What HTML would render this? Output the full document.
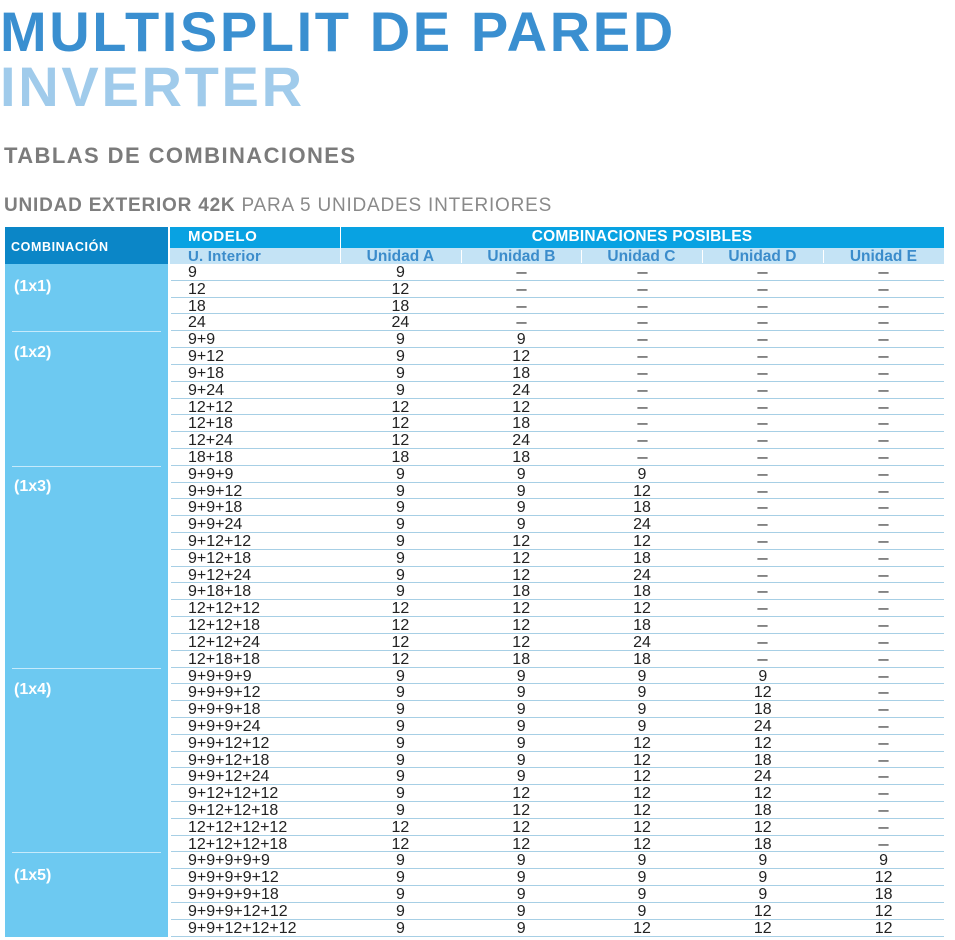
<!DOCTYPE html>
<html><head><meta charset="utf-8">
<style>
*{margin:0;padding:0;box-sizing:border-box}
html,body{width:955px;height:940px;background:#fff;overflow:hidden}
body{position:relative;font-family:"Liberation Sans",sans-serif}
.abs{position:absolute;white-space:nowrap}
.t1{left:0;top:3.6px;font-size:56px;line-height:56px;font-weight:bold;color:#3a8fd0;letter-spacing:2.6px}
.t2{left:0;top:59px;font-size:56px;line-height:56px;font-weight:bold;color:#a0cbeb;letter-spacing:2.7px}
.t3{left:4px;top:145.4px;font-size:22px;line-height:22px;font-weight:bold;color:#7b7b7b;letter-spacing:1.42px}
.t4{left:4px;top:195.8px;font-size:19px;line-height:19px;color:#8a8a8a;letter-spacing:0.79px}
.t4 b{color:#7e7e7e}
.hdark{left:5px;top:227px;width:163px;height:37px;background:#0b86c7}
.hbar{left:170px;top:227px;width:774px;height:21px;background:#08a2e2}
.hsub{left:170px;top:248px;width:774px;height:16px;background:#c4e3f5}
.vline{background:#fff;width:1px}
.hw{color:#fff;font-weight:bold}
.hs{color:#3b8ccb;font-weight:bold;font-size:15.5px;line-height:16px;top:248.5px;text-align:center;width:120.8px}
.leftcol{left:5px;top:264px;width:163px;height:673px;background:#6dc9f1}
.sep{left:12px;width:149px;height:1px;background:#c6eafb}
.lab{left:14px;font-size:16px;line-height:16px;font-weight:bold;color:#fff}
#rows{position:absolute;left:171px;top:264px;width:773px}
.r{display:flex;height:16.825px;border-bottom:1px solid #a7cfe5;font-size:16px;line-height:16.825px;color:#222}
.r span{display:block;width:120.8px;text-align:center;position:relative;top:1px}
.r span:first-child{width:169px;text-align:left;padding-left:17px}
.r i{font-style:normal;display:inline-block;transform:scaleX(1.15)}
</style></head><body>
<div class="abs t1">MULTISPLIT DE PARED</div>
<div class="abs t2">INVERTER</div>
<div class="abs t3">TABLAS DE COMBINACIONES</div>
<div class="abs t4"><b>UNIDAD EXTERIOR 42K</b> PARA 5 UNIDADES INTERIORES</div>

<div class="abs hdark"></div>
<div class="abs hbar"></div>
<div class="abs hsub"></div>
<div class="abs vline" style="left:340px;top:227px;height:36px"></div>
<div class="abs vline" style="left:461px;top:250px;height:13px"></div>
<div class="abs vline" style="left:581px;top:250px;height:13px"></div>
<div class="abs vline" style="left:702px;top:250px;height:13px"></div>
<div class="abs vline" style="left:823px;top:250px;height:13px"></div>

<div class="abs hw" style="left:11px;top:239.5px;font-size:12.5px;line-height:14px;letter-spacing:0.6px">COMBINACIÓN</div>
<div class="abs hw" style="left:188px;top:229px;font-size:15px;line-height:16px;letter-spacing:0.6px">MODELO</div>
<div class="abs hw" style="left:340px;width:604px;text-align:center;top:229px;font-size:15.5px;line-height:16px;letter-spacing:0.2px">COMBINACIONES POSIBLES</div>
<div class="abs hs" style="left:188px;width:auto;text-align:left;font-size:15px;letter-spacing:0.2px">U. Interior</div>
<div class="abs hs" style="left:340px">Unidad A</div>
<div class="abs hs" style="left:461px">Unidad B</div>
<div class="abs hs" style="left:581px">Unidad C</div>
<div class="abs hs" style="left:702px">Unidad D</div>
<div class="abs hs" style="left:823px">Unidad E</div>

<div class="abs leftcol"></div>
<div class="abs sep" style="top:331px"></div>
<div class="abs sep" style="top:465.5px"></div>
<div class="abs sep" style="top:667.5px"></div>
<div class="abs sep" style="top:851.5px"></div>
<div class="abs lab" style="top:278.5px">(1x1)</div>
<div class="abs lab" style="top:344.5px">(1x2)</div>
<div class="abs lab" style="top:478.5px">(1x3)</div>
<div class="abs lab" style="top:681.5px">(1x4)</div>
<div class="abs lab" style="top:867.5px">(1x5)</div>

<div id="rows">
<div class="r"><span>9</span><span>9</span><span><i>–</i></span><span><i>–</i></span><span><i>–</i></span><span><i>–</i></span></div>
<div class="r"><span>12</span><span>12</span><span><i>–</i></span><span><i>–</i></span><span><i>–</i></span><span><i>–</i></span></div>
<div class="r"><span>18</span><span>18</span><span><i>–</i></span><span><i>–</i></span><span><i>–</i></span><span><i>–</i></span></div>
<div class="r"><span>24</span><span>24</span><span><i>–</i></span><span><i>–</i></span><span><i>–</i></span><span><i>–</i></span></div>
<div class="r"><span>9+9</span><span>9</span><span>9</span><span><i>–</i></span><span><i>–</i></span><span><i>–</i></span></div>
<div class="r"><span>9+12</span><span>9</span><span>12</span><span><i>–</i></span><span><i>–</i></span><span><i>–</i></span></div>
<div class="r"><span>9+18</span><span>9</span><span>18</span><span><i>–</i></span><span><i>–</i></span><span><i>–</i></span></div>
<div class="r"><span>9+24</span><span>9</span><span>24</span><span><i>–</i></span><span><i>–</i></span><span><i>–</i></span></div>
<div class="r"><span>12+12</span><span>12</span><span>12</span><span><i>–</i></span><span><i>–</i></span><span><i>–</i></span></div>
<div class="r"><span>12+18</span><span>12</span><span>18</span><span><i>–</i></span><span><i>–</i></span><span><i>–</i></span></div>
<div class="r"><span>12+24</span><span>12</span><span>24</span><span><i>–</i></span><span><i>–</i></span><span><i>–</i></span></div>
<div class="r"><span>18+18</span><span>18</span><span>18</span><span><i>–</i></span><span><i>–</i></span><span><i>–</i></span></div>
<div class="r"><span>9+9+9</span><span>9</span><span>9</span><span>9</span><span><i>–</i></span><span><i>–</i></span></div>
<div class="r"><span>9+9+12</span><span>9</span><span>9</span><span>12</span><span><i>–</i></span><span><i>–</i></span></div>
<div class="r"><span>9+9+18</span><span>9</span><span>9</span><span>18</span><span><i>–</i></span><span><i>–</i></span></div>
<div class="r"><span>9+9+24</span><span>9</span><span>9</span><span>24</span><span><i>–</i></span><span><i>–</i></span></div>
<div class="r"><span>9+12+12</span><span>9</span><span>12</span><span>12</span><span><i>–</i></span><span><i>–</i></span></div>
<div class="r"><span>9+12+18</span><span>9</span><span>12</span><span>18</span><span><i>–</i></span><span><i>–</i></span></div>
<div class="r"><span>9+12+24</span><span>9</span><span>12</span><span>24</span><span><i>–</i></span><span><i>–</i></span></div>
<div class="r"><span>9+18+18</span><span>9</span><span>18</span><span>18</span><span><i>–</i></span><span><i>–</i></span></div>
<div class="r"><span>12+12+12</span><span>12</span><span>12</span><span>12</span><span><i>–</i></span><span><i>–</i></span></div>
<div class="r"><span>12+12+18</span><span>12</span><span>12</span><span>18</span><span><i>–</i></span><span><i>–</i></span></div>
<div class="r"><span>12+12+24</span><span>12</span><span>12</span><span>24</span><span><i>–</i></span><span><i>–</i></span></div>
<div class="r"><span>12+18+18</span><span>12</span><span>18</span><span>18</span><span><i>–</i></span><span><i>–</i></span></div>
<div class="r"><span>9+9+9+9</span><span>9</span><span>9</span><span>9</span><span>9</span><span><i>–</i></span></div>
<div class="r"><span>9+9+9+12</span><span>9</span><span>9</span><span>9</span><span>12</span><span><i>–</i></span></div>
<div class="r"><span>9+9+9+18</span><span>9</span><span>9</span><span>9</span><span>18</span><span><i>–</i></span></div>
<div class="r"><span>9+9+9+24</span><span>9</span><span>9</span><span>9</span><span>24</span><span><i>–</i></span></div>
<div class="r"><span>9+9+12+12</span><span>9</span><span>9</span><span>12</span><span>12</span><span><i>–</i></span></div>
<div class="r"><span>9+9+12+18</span><span>9</span><span>9</span><span>12</span><span>18</span><span><i>–</i></span></div>
<div class="r"><span>9+9+12+24</span><span>9</span><span>9</span><span>12</span><span>24</span><span><i>–</i></span></div>
<div class="r"><span>9+12+12+12</span><span>9</span><span>12</span><span>12</span><span>12</span><span><i>–</i></span></div>
<div class="r"><span>9+12+12+18</span><span>9</span><span>12</span><span>12</span><span>18</span><span><i>–</i></span></div>
<div class="r"><span>12+12+12+12</span><span>12</span><span>12</span><span>12</span><span>12</span><span><i>–</i></span></div>
<div class="r"><span>12+12+12+18</span><span>12</span><span>12</span><span>12</span><span>18</span><span><i>–</i></span></div>
<div class="r"><span>9+9+9+9+9</span><span>9</span><span>9</span><span>9</span><span>9</span><span>9</span></div>
<div class="r"><span>9+9+9+9+12</span><span>9</span><span>9</span><span>9</span><span>9</span><span>12</span></div>
<div class="r"><span>9+9+9+9+18</span><span>9</span><span>9</span><span>9</span><span>9</span><span>18</span></div>
<div class="r"><span>9+9+9+12+12</span><span>9</span><span>9</span><span>9</span><span>12</span><span>12</span></div>
<div class="r"><span>9+9+12+12+12</span><span>9</span><span>9</span><span>12</span><span>12</span><span>12</span></div>
</div>
</body></html>
